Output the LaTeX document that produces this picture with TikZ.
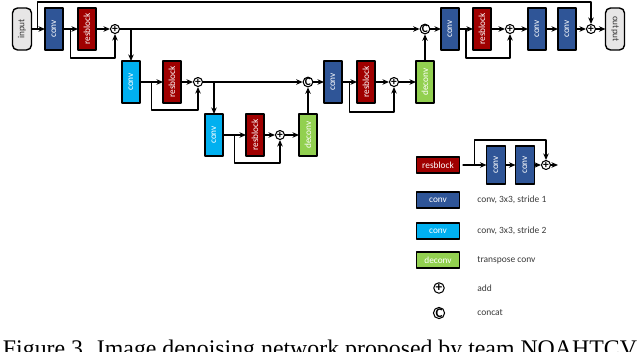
\documentclass[tikz,border=0pt]{standalone}
\usepackage{fontspec}
\setmainfont{Liberation Serif}
\newfontfamily\blockfont{Carlito}
\usepackage{graphicx}
\usetikzlibrary{arrows.meta,positioning,calc}
\definecolor{convblue}{HTML}{2F5597}
\definecolor{convcyan}{HTML}{00B0F0}
\definecolor{resred}{HTML}{A00000}
\definecolor{deconvgreen}{HTML}{92D050}
\definecolor{iogrey}{HTML}{E7E6E6}
\definecolor{ink}{HTML}{3A3A3A}
\tikzset{
    every picture/.style={line cap=round,line join=round},
    blk/.style={draw=black,line width=0.8pt,minimum width=3.6mm,minimum height=8.4mm,
      inner sep=0pt,outer sep=0pt,text=white,font=\blockfont\fontsize{5.3}{6}\selectfont},
    convA/.style={blk,fill=convblue},
    convB/.style={blk,fill=convcyan},
    resbox/.style={blk,fill=resred},
    deconvbox/.style={blk,fill=deconvgreen},
    iobox/.style={blk,fill=iogrey,text=ink,rounded corners=1mm,minimum width=3.8mm},
    opnode/.style={circle,draw=black,fill=white,line width=0.6pt,minimum size=1.8mm,
      inner sep=0pt,font=\blockfont\bfseries\fontsize{6.5}{6.5}\selectfont},
    legbox/.style={minimum width=8.6mm,minimum height=3.2mm},
    legtext/.style={anchor=west,inner sep=0pt,text=ink,font=\blockfont\fontsize{5.4}{6}\selectfont},
    flowarrow/.style={-{Stealth[length=1.3mm,width=1.1mm]},draw=black,line width=0.75pt}
}
\begin{document}
\begin{tikzpicture}[x=0.2mm,y=-0.2mm]
  \useasboundingbox (0,0) rectangle (640,351);
  \clip (0,0) rectangle (640,351);
  \node[iobox] (in) at (22,29) {\rotatebox{90}{input}};
  \node[convA] (c1) at (54,29) {\rotatebox{90}{conv}};
  \node[resbox] (r1) at (87,29) {\rotatebox{90}{resblock}};
  \node[opnode] (a1) at (115,29) {+};
  \node[opnode] (cat1) at (425,29) {C};
  \node[convA] (c5) at (450,29) {\rotatebox{90}{conv}};
  \node[resbox] (r5) at (482,29) {\rotatebox{90}{resblock}};
  \node[opnode] (a5) at (510,29) {+};
  \node[convA] (c6) at (537,29) {\rotatebox{90}{conv}};
  \node[convA] (c7) at (567,29) {\rotatebox{90}{conv}};
  \node[opnode] (a6) at (591,29) {+};
  \node[iobox] (out) at (615,29) {\rotatebox{-90}{output}};

  \node[convB] (c2) at (131,82) {\rotatebox{90}{conv}};
  \node[resbox] (r2) at (172,82) {\rotatebox{90}{resblock}};
  \node[opnode] (a2) at (198,82) {+};
  \node[opnode] (cat2) at (308,82) {C};
  \node[convA] (c4) at (333,82) {\rotatebox{90}{conv}};
  \node[resbox] (r4) at (366,82) {\rotatebox{90}{resblock}};
  \node[opnode] (a4) at (394,82) {+};
  \node[deconvbox] (dc4) at (425,82) {\rotatebox{90}{deconv}};

  \node[convB] (c3) at (214,135) {\rotatebox{90}{conv}};
  \node[resbox] (r3) at (255,135) {\rotatebox{90}{resblock}};
  \node[opnode] (a3) at (280,135) {+};
  \node[deconvbox] (dc3) at (308,135) {\rotatebox{90}{deconv}};

  \draw[flowarrow] (in) -- (c1);
  \draw[flowarrow] (c1) -- (r1);
  \draw[flowarrow] (r1) -- (a1);
  \draw[flowarrow] (a1) -- (cat1);
  \draw[flowarrow] (cat1) -- (c5);
  \draw[flowarrow] (c5) -- (r5);
  \draw[flowarrow] (r5) -- (a5);
  \draw[flowarrow] (a5) -- (c6);
  \draw[flowarrow] (c6) -- (c7);
  \draw[flowarrow] (c7) -- (a6);
  \draw[flowarrow] (a6) -- (out);
  \draw[flowarrow] (c2) -- (r2);
  \draw[flowarrow] (r2) -- (a2);
  \draw[flowarrow] (a2) -- (cat2);
  \draw[flowarrow] (cat2) -- (c4);
  \draw[flowarrow] (c4) -- (r4);
  \draw[flowarrow] (r4) -- (a4);
  \draw[flowarrow] (a4) -- (dc4);
  \draw[flowarrow] (c3) -- (r3);
  \draw[flowarrow] (r3) -- (a3);
  \draw[flowarrow] (a3) -- (dc3);
  \draw[flowarrow] (dc3) -- (cat2);
  \draw[flowarrow] (dc4) -- (cat1);
  \draw[flowarrow] (a1 -| c2) -- (c2);
  \draw[flowarrow] (a2 -| c3) -- (c3);
  \foreach \cv/\rb/\ad/\dy in {c1/r1/a1/29,c2/r2/a2/28,c3/r3/a3/28,c4/r4/a4/30,c5/r5/a5/29}
    \draw[flowarrow] ($(\cv.east)!0.5!(\rb.west)$) -- ++(0,\dy) -| (\ad.south);
  \coordinate (sk) at ($(in.east)!0.45!(c1.west)$);
  \coordinate (topline) at (0,2);
  \draw[flowarrow] (sk) |- (topline -| a6) -- (a6.north);

  \node[resbox,legbox] (lr) at (438,165) {resblock};
  \coordinate (ls) at (463,165);
  \node[convA,minimum width=3.8mm,minimum height=7.6mm] (lca) at (496,165) {\rotatebox{90}{conv}};
  \node[convA,minimum width=3.8mm,minimum height=7.6mm] (lcb) at (525,165) {\rotatebox{90}{conv}};
  \node[opnode] (lad) at (546,165) {+};
  \coordinate (le) at (558,165);
  \draw[flowarrow] (ls) -- (lca);
  \draw[flowarrow] (lca) -- (lcb);
  \draw[flowarrow] (lcb) -- (lad);
  \draw[flowarrow] (lad) -- (le);
  \draw[flowarrow] ($(ls)!0.5!(lca.west)$) -- ++(0,-25) -| (lad.north);
  \foreach \nm/\st/\yy/\lab/\desc in {lc1/convA/200/conv/{conv, 3x3, stride 1},
      lc2/convB/231/conv/{conv, 3x3, stride 2},ld/deconvbox/260/deconv/{transpose conv}} {
    \node[\st,legbox] (\nm) at (438,\yy) {\lab};
    \node[legtext] (\nm-txt) at (477,\yy) {\desc};
  }
  \node[opnode,minimum size=2.1mm,font=\blockfont\bfseries\fontsize{7.5}{7.5}\selectfont] (la) at (439,288) {+};
  \node[legtext] (la-txt) at (477,288) {add};
  \node[opnode,minimum size=2.1mm,font=\blockfont\bfseries\fontsize{7.5}{7.5}\selectfont] (lcat) at (439,313) {C};
  \node[legtext] (lcat-txt) at (477,313) {concat};

  \node[anchor=base,inner sep=0pt,font=\fontsize{13.56}{16}\selectfont] (cap) at (320,356.5)
    {Figure 3. Image denoising network proposed by team NOAHTCV};
\end{tikzpicture}
\end{document}
